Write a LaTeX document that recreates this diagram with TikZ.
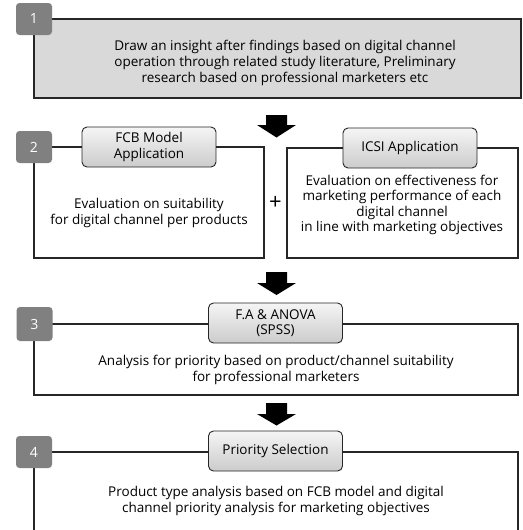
\documentclass[tikz,border=0pt]{standalone}
\usepackage{fontspec}
\setmainfont{Open Sans}
\begin{document}
\begin{tikzpicture}[x=1pt,y=-1pt,
  boxline/.style={draw=black!85,line width=1.1pt},
  badge/.style={fill=black!50,rounded corners=3.5pt,text=white,font=\fontsize{14}{16}\selectfont,
    minimum width=36pt,minimum height=32pt,inner sep=0pt},
  hdr/.style={draw=black!85,line width=0.9pt,rounded corners=5pt,top color=black!4,bottom color=black!20,
    minimum width=134pt,minimum height=40pt,align=center,inner sep=0pt,font=\fontsize{13.5}{15.5}\selectfont},
  body/.style={align=center,font=\fontsize{13.5}{15.6}\selectfont,inner sep=0pt},
  bigarrow/.style={fill=black}]
\useasboundingbox (0,0) rectangle (522,530);
\fill[white] (0,0) rectangle (522,530);
% Step 1
\draw[boxline,fill=black!15] (34,19) rectangle (521,98);
\node[badge] (b1) at (34,19) {1};
\node[body] (t1) at (285,63) {Draw an insight after findings based on digital channel\\operation through related study literature, Preliminary\\research based on professional marketers etc};
% arrow 1
\fill[bigarrow] (266,115) -- (287,115) -- (287,125) -- (296,125) -- (276.5,137.5) -- (257,125) -- (266,125) -- cycle;
% Step 2
\draw[boxline] (34,147) rectangle (264,258);
\draw[boxline] (287,148) rectangle (518,258);
\node[badge] (b2) at (34,147) {2};
\node[hdr] (h2a) at (149,147) {FCB Model\\Application};
\node[hdr] (h2b) at (410,148) {ICSI Application};
\node[body] (t2a) at (149,213) {Evaluation on suitability\\for digital channel per products};
\node[body] (t2b) at (402,205) {Evaluation on effectiveness for\\marketing performance of each\\digital channel\\in line with marketing objectives};
\node[font=\fontsize{22}{22}\selectfont,inner sep=0pt] (plus) at (275.5,203) {+};
% arrow 2
\fill[bigarrow] (266,272) -- (287,272) -- (287,283) -- (296,283) -- (276.5,295) -- (257,283) -- (266,283) -- cycle;
% Step 3
\draw[boxline] (34,324) rectangle (518,395);
\node[badge,minimum height=34pt] (b3) at (34.5,324) {3};
\node[hdr] (h3) at (275.5,323) {F.A \& ANOVA\\(SPSS)};
\node[body] (t3) at (276,370) {Analysis for priority based on product/channel suitability\\for professional marketers};
% arrow 3
\fill[bigarrow] (266,403) -- (287,403) -- (287,414) -- (296,414) -- (276.5,425.5) -- (257,414) -- (266,414) -- cycle;
% Step 4
\draw[boxline] (34,531) -- (34,452) -- (518,452) -- (518,531);
\node[badge] (b4) at (34,452) {4};
\node[hdr] (h4) at (275.5,451) {Priority Selection};
\node[body] (t4) at (276,501) {Product type analysis based on FCB model and digital\\channel priority analysis for marketing objectives};
\end{tikzpicture}
\end{document}
